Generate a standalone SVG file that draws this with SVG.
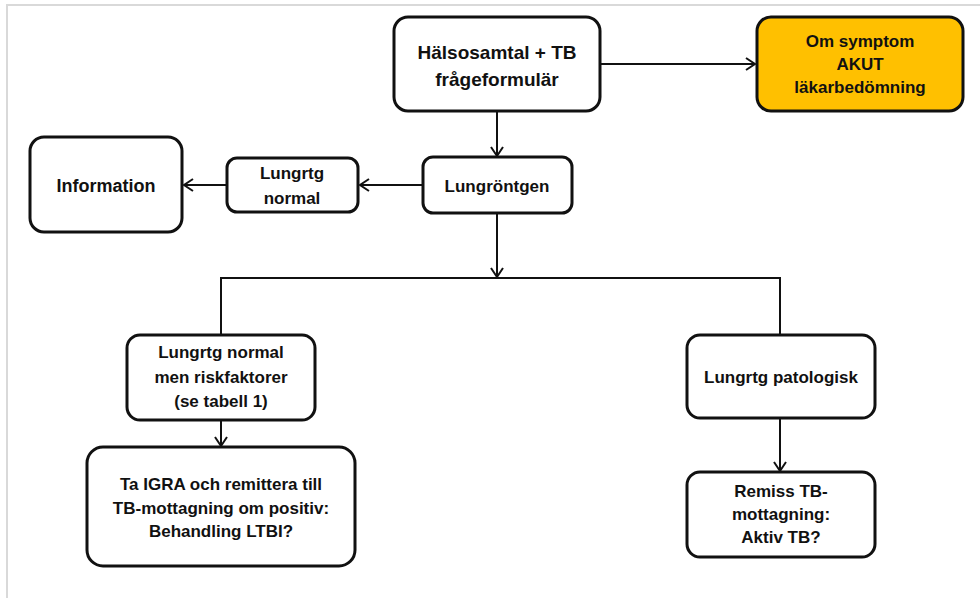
<svg xmlns="http://www.w3.org/2000/svg" width="980" height="598" viewBox="0 0 980 598">
<style>
.box{fill:#fff;stroke:#111;stroke-width:3}
.hot{fill:#FFC000;stroke:#111;stroke-width:3}
.t{font-family:"Liberation Sans",Arial,sans-serif;font-weight:bold;font-size:17px;fill:#111;text-anchor:middle}
.c{fill:none;stroke:#111;stroke-width:2}
</style>
<defs>
<marker id="ah" markerUnits="userSpaceOnUse" markerWidth="14" markerHeight="16" refX="10" refY="7" orient="auto">
<path d="M1,1 L10,7 L1,13" fill="none" stroke="#111" stroke-width="2"/>
</marker>
</defs>
<rect width="980" height="598" fill="#fff"/>
<path d="M7,598 V5 H980" fill="none" stroke="#d9d9d9" stroke-width="2"/>
<g id="connectors">
<path class="c" d="M600,64 H755" marker-end="url(#ah)"/>
<path class="c" d="M497,111 V156" marker-end="url(#ah)"/>
<path class="c" d="M423,185 H360" marker-end="url(#ah)"/>
<path class="c" d="M227,185 H184" marker-end="url(#ah)"/>
<path class="c" d="M497,213 V277" marker-end="url(#ah)"/>
<path class="c" d="M221,335 V278 H780 V335"/>
<path class="c" d="M221,420 V446" marker-end="url(#ah)"/>
<path class="c" d="M780,418 V471" marker-end="url(#ah)"/>
</g>
<g id="n-halsosamtal">
<rect class="box" x="394" y="17" width="206" height="94" rx="14"/>
<text class="t" style="font-size:19px" x="497" y="59">Hälsosamtal + TB</text>
<text class="t" style="font-size:19px" x="497" y="86">frågeformulär</text>
</g>
<g id="n-akut">
<rect class="hot" x="757" y="17" width="206" height="94" rx="14"/>
<text class="t" x="860" y="47">Om symptom</text>
<text class="t" x="860" y="70">AKUT</text>
<text class="t" x="860" y="93">läkarbedömning</text>
</g>
<g id="n-lungrontgen">
<rect class="box" x="423" y="157" width="149" height="56" rx="10"/>
<text class="t" x="497" y="192">Lungröntgen</text>
</g>
<g id="n-lungrtg-normal">
<rect class="box" x="227" y="158" width="131" height="54" rx="10"/>
<text class="t" x="292" y="179">Lungrtg</text>
<text class="t" x="292" y="204">normal</text>
</g>
<g id="n-information">
<rect class="box" x="30" y="137" width="152" height="95" rx="14"/>
<text class="t" style="font-size:18px" x="106" y="192">Information</text>
</g>
<g id="n-riskfaktorer">
<rect class="box" x="127" y="335" width="188" height="85" rx="13"/>
<text class="t" x="221" y="358">Lungrtg normal</text>
<text class="t" x="221" y="383">men riskfaktorer</text>
<text class="t" x="221" y="407">(se tabell 1)</text>
</g>
<g id="n-patologisk">
<rect class="box" x="687" y="335" width="188" height="83" rx="13"/>
<text class="t" x="781" y="383">Lungrtg patologisk</text>
</g>
<g id="n-igra">
<rect class="box" x="87" y="447" width="268" height="119" rx="16"/>
<text class="t" x="221" y="490">Ta IGRA och remittera till</text>
<text class="t" x="221" y="514">TB-mottagning om positiv:</text>
<text class="t" x="221" y="537">Behandling LTBI?</text>
</g>
<g id="n-remiss">
<rect class="box" x="687" y="472" width="188" height="85" rx="13"/>
<text class="t" x="781" y="497">Remiss TB-</text>
<text class="t" x="781" y="520">mottagning:</text>
<text class="t" x="781" y="543">Aktiv TB?</text>
</g>
</svg>
